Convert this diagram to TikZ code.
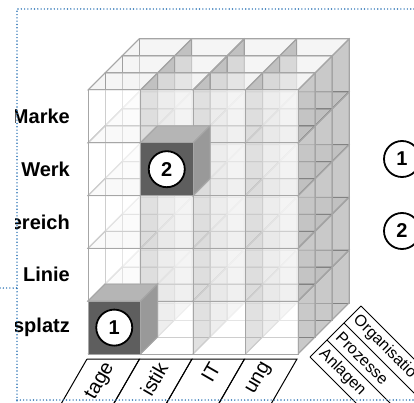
\documentclass[tikz,border=0pt]{standalone}
\usepackage{fontspec}
\setmainfont{Liberation Sans}
\definecolor{frameblue}{RGB}{46,117,182}
\definecolor{cubeline}{RGB}{166,166,166}
\begin{document}
\begin{tikzpicture}[x=1pt,y=1pt,
   cubeedge/.style={draw=cubeline, line width=1pt},
   frontface/.style={cubeedge, fill=white, fill opacity=.45},
   topface/.style={cubeedge, fill=black, fill opacity=.04},
   sideface/.style={cubeedge, fill=black, fill opacity=.21},
   markfront/.style={cubeedge, fill=black!63},
   marktop/.style={cubeedge, fill=black!29},
   markside/.style={cubeedge, fill=black!40},
   numcircle/.style={circle, draw=black, fill=white, line width=1.8pt,
      minimum size=36pt, inner sep=0pt, font=\bfseries\fontsize{20}{24}\selectfont},
   rowlabel/.style={anchor=east, inner sep=0pt, font=\bfseries\fontsize{20}{24}\selectfont},
   labelbox/.style={draw=black, line width=1pt},
   collabel/.style={anchor=east, rotate=60, inner sep=0pt, font=\fontsize{20}{24}\selectfont},
   layerlabel/.style={anchor=west, rotate=-45, inner sep=0pt, font=\fontsize{16}{19}\selectfont},
   dotframe/.style={draw=frameblue, line width=1.6pt, line cap=round, dash pattern=on 0pt off 3.3pt}]

\useasboundingbox (0,0) rectangle (414,402);
\clip (0,0) rectangle (414,402);

\foreach \k in {2,1,0}
 \foreach \j in {0,...,4}
  \foreach \i in {0,...,3} {
   \pgfmathsetmacro\cx{88+52.5*\i+17*\k}
   \pgfmathsetmacro\cy{48+52.8*\j+17*\k}
   \draw[cubeedge] (\cx+17,\cy+17) rectangle ++(52.5,52.8);
   \draw[cubeedge] (\cx,\cy) -- ++(17,17) (\cx+52.5,\cy) -- ++(17,17)
                   (\cx,\cy+52.8) -- ++(17,17) (\cx+52.5,\cy+52.8) -- ++(17,17);
   \filldraw[sideface] (\cx+52.5,\cy) -- ++(17,17) -- ++(0,52.8) -- ++(-17,-17) -- cycle;
   \filldraw[topface] (\cx,\cy+52.8) -- ++(17,17) -- ++(52.5,0) -- ++(-17,-17) -- cycle;
   \filldraw[frontface] (\cx,\cy) rectangle ++(52.5,52.8);
  }

\foreach \cx/\cy/\num in {88/48/1,140.5/206.4/2} {
   \filldraw[marktop] (\cx,\cy+52.8) -- ++(17,17) -- ++(52.5,0) -- ++(-17,-17) -- cycle;
   \filldraw[markside] (\cx+52.5,\cy) -- ++(17,17) -- ++(0,52.8) -- ++(-17,-17) -- cycle;
   \filldraw[markfront] (\cx,\cy) rectangle ++(52.5,52.8);
   \node[numcircle] (cell\num) at (\cx+26.25,\cy+26.4) {\num};
}

\begin{scope}
\clip (15,0) rectangle (414,402);
\foreach \j/\txt in {0/splatz,1/Linie,2/ereich,3/Werk,4/Marke}
   \node[rowlabel] (row\j) at (70,74.4+52.8*\j) {\txt};
\end{scope}

\foreach \i/\txt in {0/tage,1/istik,2/IT,3/ung} {
   \pgfmathsetmacro\bx{87+52.5*\i}
   \draw[labelbox] (\bx,43) -- ++(240:60) (\bx,43) -- ++(52.5,0) -- ++(240:60);
   \node[collabel] (col\i) at ([shift={(240:6)}]\bx+26.25,43) {\txt};
}

\foreach \n in {0,...,3}
   \draw[labelbox] (310+17*\n,45+17*\n) -- ++(-45:160);
\draw[labelbox] (310,45) -- (361,96);
\foreach \n/\txt in {0/Anlagen,1/Prozesse,2/Organisatio}
   \node[layerlabel] (layer\n) at (321.5+17*\n,50.5+17*\n) {\txt};

\node[numcircle] (legend1) at (402,243) {1};
\node[numcircle] (legend2) at (402,171) {2};

\draw[dotframe] (414,393) -- (17,393) -- (17,-2);
\draw[dotframe] (17,2) -- (414,2);
\draw[dotframe] (0,114) -- (17,114);

\end{tikzpicture}
\end{document}
